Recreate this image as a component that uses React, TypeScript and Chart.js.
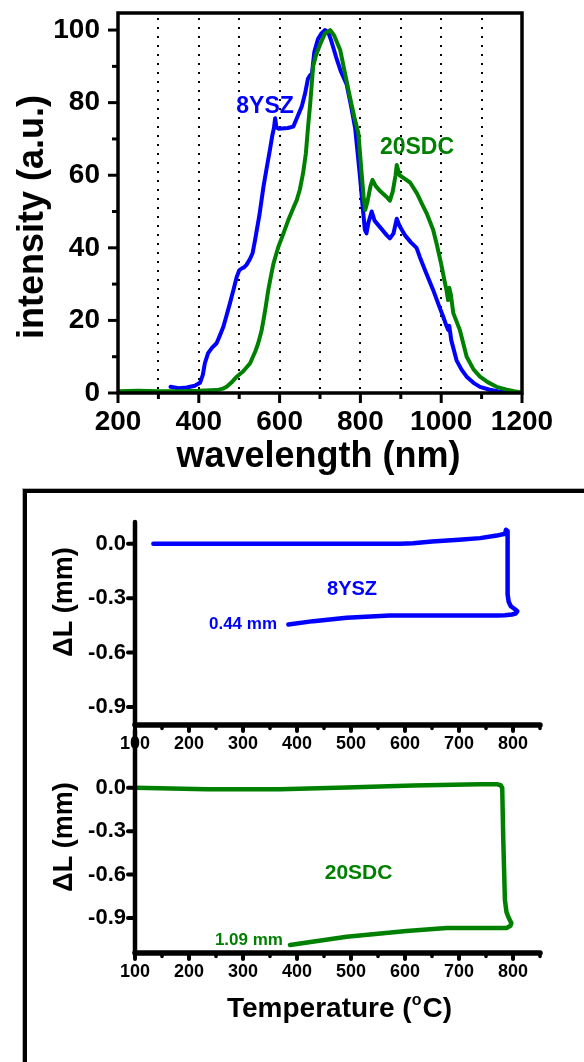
import React, { useEffect, useRef } from "react";
import { Chart, registerables } from "chart.js";

Chart.register(...registerables);

const FONT = "'Liberation Sans', Arial, Helvetica, sans-serif";
const BLUE = "#0000ff";
const GREEN = "#008000";

// ---------- Top chart: emission spectra ----------
const YSZ_WL = [330, 350, 370, 390, 403, 410, 415, 423, 433, 444, 452, 461, 469, 477, 486, 494, 500, 506, 512, 518, 527, 533, 539, 550, 560, 568, 576, 582, 586, 589, 592, 598, 605, 620, 634, 646, 655, 663, 670, 675, 680, 686, 695, 703, 712, 720, 728, 740, 752, 766, 777, 787, 799, 805, 811, 815, 820, 828, 835, 850, 865, 873, 882, 890, 897, 910, 925, 939, 947, 963, 980, 993, 1005, 1013, 1017, 1020, 1025, 1038, 1050, 1063, 1080, 1096, 1120, 1140, 1162, 1180, 1195];
const YSZ_INT = [1.7, 1.3, 1.5, 2.0, 2.8, 5.0, 8.2, 11.0, 12.5, 13.7, 15.8, 18.3, 21.5, 24.7, 28.5, 32.0, 33.8, 34.3, 34.6, 35.3, 37.0, 38.5, 42.0, 49.0, 56.8, 62.0, 67.0, 71.0, 73.0, 75.7, 73.2, 72.8, 72.9, 73.0, 73.4, 76.6, 79.0, 82.5, 86.5, 87.5, 88.0, 94.0, 97.5, 99.0, 100.0, 99.5, 97.0, 92.5, 88.5, 85.0, 79.0, 73.0, 59.6, 52.0, 45.0, 44.0, 47.0, 50.0, 47.5, 45.5, 43.5, 42.6, 44.0, 48.0, 46.0, 43.5, 41.5, 40.0, 37.5, 33.0, 28.4, 24.5, 21.0, 18.5, 17.4, 18.5, 14.5, 9.0, 6.5, 4.5, 2.8, 1.7, 0.9, 0.5, 0.2, 0.1, 0.0];

const SDC_WL = [200, 250, 300, 350, 400, 444, 460, 469, 480, 494, 510, 527, 540, 547, 555, 560, 566, 572, 580, 585, 597, 608, 621, 634, 642, 650, 658, 665, 671, 676, 683, 690, 700, 712, 725, 735, 750, 762, 774, 785, 795, 803, 808, 812, 818, 825, 830, 838, 850, 865, 873, 880, 887, 890, 897, 910, 923, 940, 953, 964, 980, 989, 1000, 1008, 1013, 1017, 1020, 1024, 1030, 1046, 1055, 1063, 1080, 1096, 1115, 1137, 1160, 1180, 1195];
const SDC_INT = [0.5, 0.6, 0.5, 0.5, 0.6, 0.8, 1.2, 1.7, 2.8, 4.5, 6.0, 8.2, 11.5, 13.7, 17.0, 20.0, 24.0, 28.4, 33.0, 35.7, 40.3, 43.5, 47.5, 51.0, 53.0, 56.0, 60.5, 66.0, 74.0, 80.0, 90.0, 93.0, 96.0, 99.0, 100.0, 98.5, 94.5, 88.0, 81.6, 76.0, 71.6, 60.5, 54.0, 50.4, 53.0, 57.0, 58.7, 57.0, 55.5, 54.0, 53.0, 55.5, 60.0, 62.8, 60.0, 59.0, 58.0, 55.0, 52.0, 49.5, 45.0, 41.0, 35.5, 31.0, 28.4, 25.6, 29.0, 27.0, 22.0, 17.4, 13.5, 10.0, 6.5, 4.5, 3.0, 1.7, 1.0, 0.5, 0.2];

const WL_TICKS = [200, 400, 600, 800, 1000, 1200];
const WL_MINOR = [300, 500, 700, 900, 1100];
const WL_DOTTED = [300, 400, 500, 600, 700, 800, 900, 1000, 1100];
const INT_TICKS = [0, 20, 40, 60, 80, 100];
const INT_MINOR = [10, 30, 50, 70, 90];
const SPEC_LABELS = [
  { text: "8YSZ", x: 564, y: 79, color: BLUE },
  { text: "20SDC", x: 940, y: 67.5, color: GREEN },
];

// ---------- Bottom charts: dilatometry ----------
const YSZ_T = [134, 200, 300, 400, 500, 591, 615, 650, 700, 739, 770, 785, 787, 790, 790, 790, 792, 796, 803, 808, 805, 798, 785, 770, 726, 650, 572, 492, 430, 384];
const YSZ_DL = [0, 0, 0, 0, 0, 0, 0.003, 0.012, 0.022, 0.031, 0.045, 0.055, 0.077, 0.07, -0.1, -0.28, -0.32, -0.345, -0.36, -0.372, -0.385, -0.39, -0.394, -0.396, -0.396, -0.396, -0.396, -0.408, -0.427, -0.445];

const SDC_T = [100, 233, 369, 492, 615, 739, 770, 777, 780, 782, 785, 788, 791, 797, 795, 788, 739, 677, 603, 492, 387];
const SDC_DL = [0, -0.01, -0.01, 0.002, 0.016, 0.025, 0.025, 0.018, 0.0, -0.36, -0.776, -0.86, -0.89, -0.937, -0.955, -0.97, -0.97, -0.97, -0.99, -1.03, -1.087];

const T_TICKS = [100, 200, 300, 400, 500, 600, 700, 800];
const T_MINOR = [150, 250, 350, 450, 550, 650, 750, 850];
const DL_TICKS = [0, -0.3, -0.6, -0.9];
const YSZ_LABELS = [
  { text: "8YSZ", x: 502, y: -0.253, size: 20, align: "center" },
  { text: "0.44 mm", x: 363, y: -0.445, size: 17, align: "right" },
];
const SDC_LABELS = [
  { text: "20SDC", x: 514, y: -0.589, size: 21, align: "center" },
  { text: "1.09 mm", x: 374, y: -1.053, size: 17, align: "right" },
];

// ---------- helpers ----------
const bold = (size: number) => `bold ${size}px ${FONT}`;

function seg(ctx: CanvasRenderingContext2D, x1: number, y1: number, x2: number, y2: number) {
  ctx.beginPath();
  ctx.moveTo(x1, y1);
  ctx.lineTo(x2, y2);
  ctx.stroke();
}

function axis(min: number, max: number, ticks: number[], fit: (s: any) => void, size: number, padding: number, fmt: (v: number) => string) {
  return {
    type: "linear",
    min,
    max,
    afterBuildTicks: (s: any) => {
      s.ticks = ticks.map((v) => ({ value: v }));
    },
    afterFit: (s: any) => {
      fit(s);
      s.paddingTop = 0;
      s.paddingBottom = 0;
      s.paddingLeft = 0;
      s.paddingRight = 0;
    },
    grid: { display: false, drawTicks: false },
    border: { display: false },
    ticks: {
      font: { family: FONT, size, weight: "bold" },
      color: "#000",
      padding,
      maxRotation: 0,
      minRotation: 0,
      autoSkip: false,
      callback: (v: any) => fmt(Number(v)),
    },
  };
}

function lineDataset(xs: number[], ys: number[], color: string, width: number) {
  return {
    data: xs.map((x, i) => ({ x, y: ys[i] })),
    borderColor: color,
    backgroundColor: color,
    borderWidth: width,
    showLine: true,
    pointRadius: 0,
    pointHoverRadius: 0,
    tension: 0,
    borderJoinStyle: "round",
    borderCapStyle: "round",
  };
}

// ---------- top chart config ----------
const spectrumPlugin = {
  id: "spectrumFrame",
  beforeDatasetsDraw(chart: any) {
    const { ctx, chartArea: a, scales } = chart;
    const x = scales.x;
    ctx.save();
    ctx.strokeStyle = "#000";
    ctx.lineWidth = 2;
    ctx.setLineDash([2, 7]);
    WL_DOTTED.forEach((v) => {
      const px = Math.round(x.getPixelForValue(v));
      seg(ctx, px, a.top + 5, px, a.bottom);
    });
    ctx.restore();
  },
  afterDatasetsDraw(chart: any) {
    const { ctx, chartArea: a, scales } = chart;
    const x = scales.x;
    const y = scales.y;
    ctx.save();
    ctx.strokeStyle = "#000";
    ctx.lineWidth = 3.5;
    ctx.lineJoin = "miter";
    ctx.strokeRect(a.left, a.top, a.right - a.left, a.bottom - a.top);
    ctx.lineWidth = 3;
    WL_TICKS.forEach((v) => {
      const px = x.getPixelForValue(v);
      seg(ctx, px, a.bottom, px, a.bottom + 10);
    });
    WL_MINOR.forEach((v) => {
      const px = x.getPixelForValue(v);
      seg(ctx, px, a.bottom, px, a.bottom + 6);
    });
    INT_TICKS.forEach((v) => {
      const py = y.getPixelForValue(v);
      seg(ctx, a.left, py, a.left - 10, py);
    });
    INT_MINOR.forEach((v) => {
      const py = y.getPixelForValue(v);
      seg(ctx, a.left, py, a.left - 6, py);
    });
    ctx.textAlign = "center";
    ctx.textBaseline = "middle";
    ctx.font = bold(23);
    SPEC_LABELS.forEach((l) => {
      ctx.fillStyle = l.color;
      ctx.fillText(l.text, x.getPixelForValue(l.x), y.getPixelForValue(l.y));
    });
    ctx.fillStyle = "#000";
    ctx.font = bold(36);
    ctx.textBaseline = "alphabetic";
    ctx.fillText("wavelength (nm)", 318.5, 467);
    ctx.translate(43, 217);
    ctx.rotate(-Math.PI / 2);
    ctx.fillText("intensity (a.u.)", 0, 0);
    ctx.restore();
  },
};

const spectrumConfig = () => ({
  type: "scatter",
  data: {
    datasets: [
      lineDataset(SDC_WL, SDC_INT, GREEN, 4),
      lineDataset(YSZ_WL, YSZ_INT, BLUE, 4),
    ],
  },
  options: {
    responsive: false,
    animation: false,
    events: [],
    layout: { padding: { left: 0, top: 13, right: 62, bottom: 0 } },
    plugins: { legend: { display: false }, tooltip: { enabled: false } },
    scales: {
      x: axis(200, 1200, WL_TICKS, (s) => { s.height = 87; }, 28, 12, (v) => String(v)),
      y: axis(0, 104.7, INT_TICKS, (s) => { s.width = 118; }, 28, 18, (v) => String(v)),
    },
  },
  plugins: [spectrumPlugin],
});

// ---------- dilatometry configs ----------
function drawRotTitle(ctx: CanvasRenderingContext2D, text: string, bx: number, cy: number, size: number) {
  ctx.save();
  ctx.fillStyle = "#000";
  ctx.font = bold(size);
  ctx.textAlign = "center";
  ctx.textBaseline = "alphabetic";
  ctx.translate(bx, cy);
  ctx.rotate(-Math.PI / 2);
  ctx.fillText(text, 0, 0);
  ctx.restore();
}

function drawTempTitle(ctx: CanvasRenderingContext2D, cx: number, baseY: number) {
  ctx.save();
  ctx.fillStyle = "#000";
  ctx.textAlign = "left";
  ctx.textBaseline = "alphabetic";
  ctx.font = bold(28);
  const w1 = ctx.measureText("Temperature (").width;
  const w3 = ctx.measureText("C)").width;
  ctx.font = bold(16);
  const w2 = ctx.measureText("o").width + 1;
  const x0 = cx - (w1 + w2 + w3) / 2;
  ctx.font = bold(28);
  ctx.fillText("Temperature (", x0, baseY);
  ctx.font = bold(16);
  ctx.fillText("o", x0 + w1, baseY - 12);
  ctx.font = bold(28);
  ctx.fillText("C)", x0 + w1 + w2, baseY);
  ctx.restore();
}

function dilPlugin(id: string, labels: any[], color: string, titleY: number, tempBase: number | null) {
  return {
    id,
    afterDatasetsDraw(chart: any) {
      const { ctx, chartArea: a, scales } = chart;
      const x = scales.x;
      const y = scales.y;
      ctx.save();
      ctx.strokeStyle = "#000";
      ctx.lineCap = "round";
      ctx.lineWidth = 4.5;
      seg(ctx, a.left, a.top, a.left, a.bottom);
      ctx.lineWidth = 5.5;
      seg(ctx, a.left, a.bottom, a.right, a.bottom);
      ctx.lineWidth = 4;
      T_TICKS.forEach((v) => {
        const px = x.getPixelForValue(v);
        seg(ctx, px, a.bottom, px, a.bottom + 6);
      });
      ctx.lineWidth = 3.5;
      T_MINOR.forEach((v) => {
        const px = x.getPixelForValue(v);
        seg(ctx, px, a.bottom, px, a.bottom + 3.5);
      });
      ctx.lineWidth = 4;
      DL_TICKS.forEach((v) => {
        const py = y.getPixelForValue(v);
        seg(ctx, a.left, py, a.left - 7, py);
      });
      ctx.fillStyle = color;
      ctx.textBaseline = "middle";
      labels.forEach((l) => {
        ctx.font = bold(l.size);
        ctx.textAlign = l.align;
        ctx.fillText(l.text, x.getPixelForValue(l.x), y.getPixelForValue(l.y));
      });
      ctx.restore();
      drawRotTitle(ctx, "\u0394L (mm)", 72, titleY, 27);
      if (tempBase !== null) drawTempTitle(ctx, 339.5, tempBase);
    },
  };
}

const fmtDL = (v: number) => (Math.abs(v) < 1e-9 ? "0.0" : v.toFixed(1));

const yszConfig = () => ({
  type: "scatter",
  data: { datasets: [lineDataset(YSZ_T, YSZ_DL, BLUE, 4.5)] },
  options: {
    responsive: false,
    animation: false,
    events: [],
    layout: { padding: { left: 0, top: 27, right: 44, bottom: 0 } },
    plugins: { legend: { display: false }, tooltip: { enabled: false } },
    scales: {
      x: axis(100, 850, T_TICKS, (s) => { s.height = 35; }, 18, 8, (v) => String(v)),
      y: axis(-1.0, 0.12, DL_TICKS, (s) => { s.width = 135; }, 22, 9, fmtDL),
    },
  },
  plugins: [dilPlugin("yszFrame", YSZ_LABELS, BLUE, 107, null)],
});

const sdcConfig = () => ({
  type: "scatter",
  data: { datasets: [lineDataset(SDC_T, SDC_DL, GREEN, 4.5)] },
  options: {
    responsive: false,
    animation: false,
    events: [],
    layout: { padding: { left: 0, top: 30, right: 44, bottom: 0 } },
    plugins: { legend: { display: false }, tooltip: { enabled: false } },
    scales: {
      x: axis(100, 850, T_TICKS, (s) => { s.height = 109; }, 18, 8, (v) => String(v)),
      y: axis(-1.143, 0.4, DL_TICKS, (s) => { s.width = 135; }, 22, 9, fmtDL),
    },
  },
  plugins: [dilPlugin("sdcFrame", SDC_LABELS, GREEN, 137, 317)],
});

function ChartBox({ top, height, makeConfig }: { top: number; height: number; makeConfig: () => any }) {
  const ref = useRef<HTMLCanvasElement>(null);
  useEffect(() => {
    const chart = new Chart(ref.current as HTMLCanvasElement, makeConfig());
    return () => chart.destroy();
  }, [makeConfig]);
  return (
    <canvas
      ref={ref}
      width={584}
      height={height}
      style={{ position: "absolute", left: 0, top, width: 584, height, display: "block" }}
    />
  );
}

export default function App() {
  return (
    <div style={{ position: "fixed", left: 0, top: 0, width: 584, height: 1062, overflow: "hidden", background: "#fff" }}>
      <div
        style={{
          position: "absolute",
          left: 23,
          top: 489,
          width: 700,
          height: 700,
          border: "4px solid #000",
          boxShadow: "0 0 0 1px #b0b0b0",
        }}
      />
      <ChartBox top={0} height={480} makeConfig={spectrumConfig} />
      <ChartBox top={495} height={265} makeConfig={yszConfig} />
      <ChartBox top={700} height={362} makeConfig={sdcConfig} />
    </div>
  );
}
